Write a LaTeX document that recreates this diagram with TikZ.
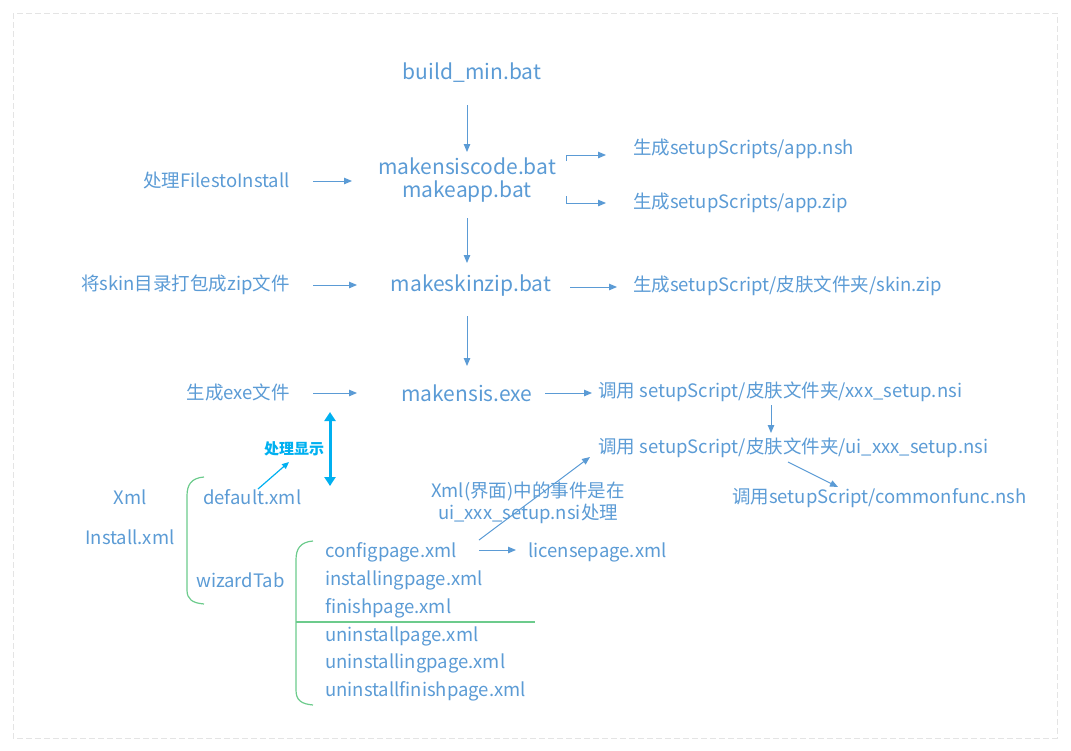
\documentclass[tikz,border=0pt]{standalone}
\usepackage{fontspec}
\setmainfont{Noto Sans CJK SC}
\usetikzlibrary{arrows.meta}
\definecolor{tb}{HTML}{5B9BD5}
\definecolor{cy}{HTML}{00B0F0}
\definecolor{gr}{HTML}{6CCB8C}
\definecolor{bd}{HTML}{E4E4E4}
\begin{document}
\begin{tikzpicture}[x=1pt,y=-1pt,
  big/.style={text=tb,font=\fontsize{21}{25}\selectfont,inner sep=0pt,align=center},
  txt/.style={text=tb,font=\fontsize{18.5}{22}\selectfont,inner sep=0pt,anchor=west},
  arr/.style={draw=tb,line width=1pt,-{Triangle[length=8pt,width=6.5pt]}},
  brk/.style={draw=gr,line width=1.2pt}]
\useasboundingbox (0,0) rectangle (1071,750);
\draw[bd,line width=1pt,dash pattern=on 6pt off 3pt] (13,13) rectangle (1057,738);

% main column
\node[big] (b) at (472,73) {build\_min.bat};
\node[big] (mk) at (467,180) {makensiscode.bat\\[-2pt]makeapp.bat};
\node[big] (mz) at (471,286) {makeskinzip.bat};
\node[big] (me) at (467,393) {makensis.exe};

% left inputs
\node[txt,anchor=east] (fi) at (290,180) {处理FilestoInstall};
\node[txt,anchor=east] (sk) at (290,285) {将skin目录打包成zip文件};
\node[txt,anchor=east] (ge) at (290,392) {生成exe文件};

% right outputs
\node[txt] (nsh) at (633,149) {生成setupScripts/app.nsh};
\node[txt] (zip) at (633,203) {生成setupScripts/app.zip};
\node[txt] (skz) at (633,286) {生成setupScript/皮肤文件夹/skin.zip};
\node[txt] (x1) at (598,392) {调用 setupScript/皮肤文件夹/xxx\_setup.nsi};
\node[txt] (x2) at (598,448) {调用 setupScript/皮肤文件夹/ui\_xxx\_setup.nsi};
\node[txt] (cf) at (732,498) {调用setupScript/commonfunc.nsh};

% xml part
\node[text=cy,font=\bfseries\fontsize{15}{18}\selectfont,inner sep=0pt] (disp) at (294,449) {处理显示};
\node[txt,anchor=center] (xl) at (130,497) {Xml};
\node[txt,anchor=center] (inst) at (130,537) {Install.xml};
\node[txt] (def) at (203,497) {default.xml};
\node[txt] (wiz) at (196,580) {wizardTab};
\node[txt] (p1) at (325,552) {configpage.xml};
\node[txt] (p2) at (325,580) {installingpage.xml};
\node[txt] (p3) at (325,608) {finishpage.xml};
\node[txt] (p4) at (325,636) {uninstallpage.xml};
\node[txt] (p5) at (325,663) {uninstallingpage.xml};
\node[txt] (p6) at (325,691) {uninstallfinishpage.xml};
\node[txt] (lic) at (528,552) {licensepage.xml};
\node[txt,anchor=center,align=center,font=\fontsize{18.5}{22}\selectfont] (evt) at (528,503) {Xml(界面)中的事件是在\\ui\_xxx\_setup.nsi处理};

% connector end points
\coordinate (c1) at (467,105); \coordinate (c2) at (467,152);
\coordinate (c3) at (467,218); \coordinate (c4) at (467,263);
\coordinate (c5) at (467,316); \coordinate (c6) at (467,366);

% vertical flow
\draw[arr] (c1) -- (c2);
\draw[arr] (c3) -- (c4);
\draw[arr] (c5) -- (c6);

% left arrows
\draw[arr] (313,181) coordinate (l1) -- (352,181) coordinate (l1e);
\draw[arr] (313,285) coordinate (l2) -- (357,285) coordinate (l2e);
\draw[arr] (313,393) coordinate (l3) -- (357,393) coordinate (l3e);

% right arrows
\coordinate (u1) at (566,161); \coordinate (u2) at (566,196);
\draw[arr] (u1) |- (606,155) coordinate (u1e);
\draw[arr] (u2) |- (606,203) coordinate (u2e);
\draw[arr] (570,287) coordinate (r1) -- (617,287) coordinate (r1e);
\draw[arr] (545,393) coordinate (r2) -- (592,393) coordinate (r2e);
\draw[arr] (771,405) coordinate (v1) -- (771,433) coordinate (v2);
\draw[arr] (788,462) coordinate (d1) -- (838,487) coordinate (d2);
\draw[arr] (479,540) coordinate (e1) -- (590,457) coordinate (e2);
\draw[arr] (479,550) coordinate (f1) -- (516,550) coordinate (f2);

% cyan arrows
\draw[draw=cy,line width=3pt,{Triangle[length=9pt,width=11pt]}-{Triangle[length=9pt,width=11pt]}] (330,412) coordinate (k1) -- (330,486) coordinate (k2);
\draw[draw=cy,line width=1.2pt,-{Triangle[length=7pt,width=6pt]}] (258,489) coordinate (s1) -- (289,462) coordinate (s2);

% green brackets
\draw[brk] (204,477) .. controls (191,478) and (187,485) .. (187,496) -- (187,590) .. controls (187,599) and (192,603) .. (204,604);
\draw[brk] (313,541) .. controls (300,542) and (296,549) .. (296,560) -- (296,690) .. controls (296,700) and (301,704) .. (313,705);
\draw[brk] (296,622) -- (535,622);
\end{tikzpicture}
\end{document}
